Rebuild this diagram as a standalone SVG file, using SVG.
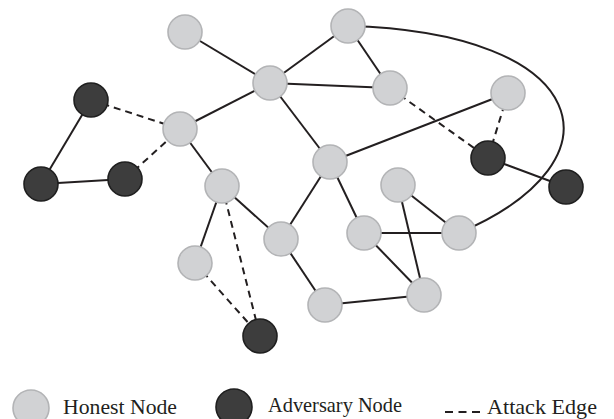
<svg xmlns="http://www.w3.org/2000/svg" width="614" height="419" viewBox="0 0 614 419">
  <style>
    .edge { stroke: #231f20; stroke-width: 2; fill: none; }
    .attack { stroke: #231f20; stroke-width: 2; fill: none; stroke-dasharray: 7 5; }
    .honest { fill: #d1d2d4; stroke: #b3b4b6; stroke-width: 1.6; }
    .adversary { fill: #3d3d3d; stroke: #1f1f1f; stroke-width: 1.6; }
    .label { font-family: "Liberation Serif", "DejaVu Serif", serif; font-size: 21px; fill: #231f20; }
  </style>
  <rect width="614" height="419" fill="#ffffff"/>

  <g id="connectors">
    <!-- honest-honest edges -->
    <line class="edge" x1="185" y1="32" x2="270" y2="83"/>
    <line class="edge" x1="348" y1="26" x2="270" y2="83"/>
    <line class="edge" x1="270" y1="83" x2="390" y2="88"/>
    <line class="edge" x1="348" y1="26" x2="390" y2="88"/>
    <line class="edge" x1="270" y1="83" x2="180" y2="129"/>
    <line class="edge" x1="270" y1="83" x2="330" y2="162"/>
    <line class="edge" x1="180" y1="129" x2="222" y2="186"/>
    <line class="edge" x1="222" y1="186" x2="281" y2="239"/>
    <line class="edge" x1="222" y1="186" x2="195" y2="263"/>
    <line class="edge" x1="330" y1="162" x2="281" y2="239"/>
    <line class="edge" x1="330" y1="162" x2="508" y2="93"/>
    <line class="edge" x1="330" y1="162" x2="364" y2="233"/>
    <line class="edge" x1="281" y1="239" x2="325" y2="305"/>
    <line class="edge" x1="325" y1="305" x2="424" y2="295"/>
    <line class="edge" x1="364" y1="233" x2="459" y2="233"/>
    <line class="edge" x1="364" y1="233" x2="424" y2="295"/>
    <line class="edge" x1="398" y1="185" x2="459" y2="233"/>
    <line class="edge" x1="398" y1="185" x2="424" y2="295"/>
    <path class="edge" d="M348 26 C590 32 630 160 459 233"/>
    <!-- adversary-adversary edges -->
    <line class="edge" x1="91" y1="100" x2="41" y2="184"/>
    <line class="edge" x1="41" y1="184" x2="125" y2="179"/>
    <line class="edge" x1="488" y1="158" x2="566" y2="187"/>
    <!-- attack edges -->
    <line class="attack" x1="91" y1="100" x2="180" y2="129"/>
    <line class="attack" x1="125" y1="179" x2="180" y2="129"/>
    <line class="attack" x1="390" y1="88" x2="488" y2="158"/>
    <line class="attack" x1="508" y1="93" x2="488" y2="158"/>
    <line class="attack" x1="222" y1="186" x2="260" y2="336"/>
    <line class="attack" x1="195" y1="263" x2="260" y2="336"/>
  </g>

  <g id="node-h1"><circle class="honest" cx="185" cy="32" r="17"/></g>
  <g id="node-h2"><circle class="honest" cx="348" cy="26" r="17"/></g>
  <g id="node-h3"><circle class="honest" cx="270" cy="83" r="17"/></g>
  <g id="node-h4"><circle class="honest" cx="390" cy="88" r="17"/></g>
  <g id="node-h5"><circle class="honest" cx="508" cy="93" r="17"/></g>
  <g id="node-h6"><circle class="honest" cx="180" cy="129" r="17"/></g>
  <g id="node-h7"><circle class="honest" cx="330" cy="162" r="17"/></g>
  <g id="node-h8"><circle class="honest" cx="222" cy="186" r="17"/></g>
  <g id="node-h9"><circle class="honest" cx="398" cy="185" r="17"/></g>
  <g id="node-h10"><circle class="honest" cx="281" cy="239" r="17"/></g>
  <g id="node-h11"><circle class="honest" cx="364" cy="233" r="17"/></g>
  <g id="node-h12"><circle class="honest" cx="459" cy="233" r="17"/></g>
  <g id="node-h13"><circle class="honest" cx="195" cy="263" r="17"/></g>
  <g id="node-h14"><circle class="honest" cx="325" cy="305" r="17"/></g>
  <g id="node-h15"><circle class="honest" cx="424" cy="295" r="17"/></g>

  <g id="node-a1"><circle class="adversary" cx="91" cy="100" r="17"/></g>
  <g id="node-a2"><circle class="adversary" cx="41" cy="184" r="17"/></g>
  <g id="node-a3"><circle class="adversary" cx="125" cy="179" r="17"/></g>
  <g id="node-a4"><circle class="adversary" cx="488" cy="158" r="17"/></g>
  <g id="node-a5"><circle class="adversary" cx="566" cy="187" r="17"/></g>
  <g id="node-a6"><circle class="adversary" cx="260" cy="336" r="17"/></g>

  <g id="legend">
    <circle class="honest" cx="31" cy="408" r="18"/>
    <text class="label" x="63" y="414" textLength="114" lengthAdjust="spacingAndGlyphs">Honest Node</text>
    <circle class="adversary" cx="234" cy="407" r="18"/>
    <text class="label" x="268" y="412" textLength="134" lengthAdjust="spacingAndGlyphs">Adversary Node</text>
    <line class="attack" x1="445" y1="412" x2="480" y2="412" style="stroke-dasharray: 8 5.5"/>
    <text class="label" x="487" y="414" textLength="110" lengthAdjust="spacingAndGlyphs">Attack Edge</text>
  </g>
</svg>
